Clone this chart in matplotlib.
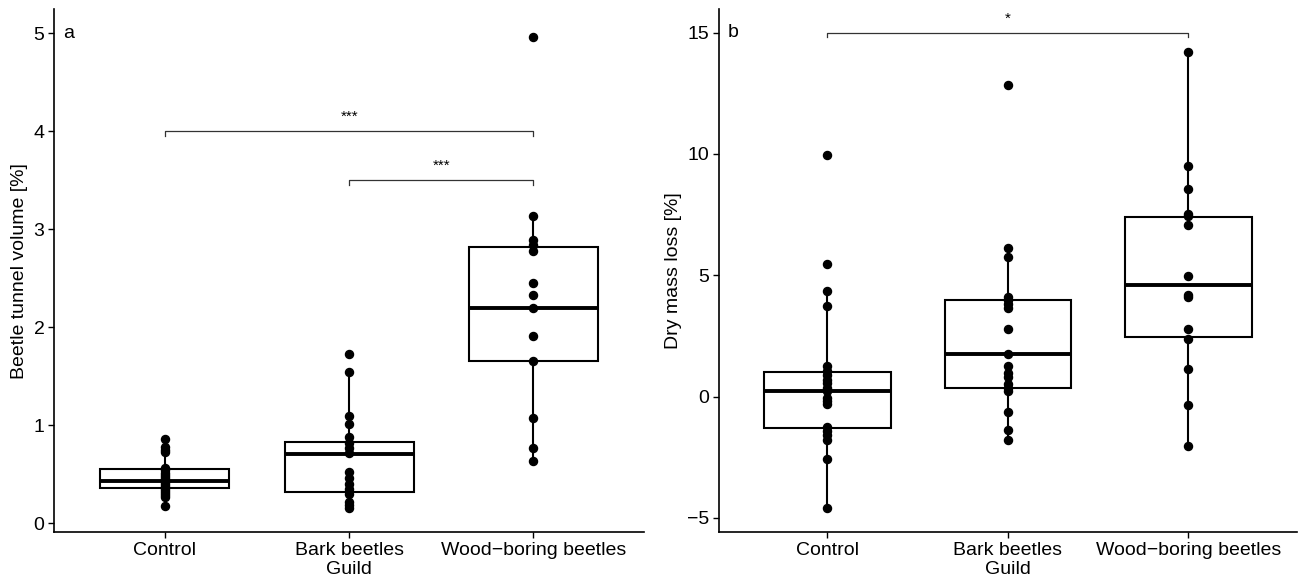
import matplotlib
matplotlib.use("Agg")
import matplotlib.pyplot as plt
import numpy as np

plt.rcParams["font.family"] = ["Liberation Sans", "DejaVu Sans"]

# ── data ──────────────────────────────────────────────────────────────────────
GUILDS = ["Control", "Bark beetles", "Wood\u2212boring beetles"]

# panel a: beetle tunnel volume [%]
tunnel_control = [0.857, 0.78, 0.75, 0.73, 0.56, 0.54, 0.51, 0.49, 0.47, 0.45,
                  0.43, 0.41, 0.39, 0.37, 0.35, 0.33, 0.31, 0.29, 0.27, 0.177]
tunnel_bark = [1.728, 1.547, 1.095, 1.01, 0.878, 0.816, 0.765, 0.714, 0.52,
               0.459, 0.40, 0.347, 0.30, 0.22, 0.187, 0.16]
tunnel_wood = [4.96, 3.134, 2.893, 2.836, 2.78, 2.449, 2.33, 2.195, 1.91,
               1.654, 1.071, 0.768, 0.632]
# box stats: q1, median, q3, lower whisker, upper whisker
tunnel_box = [(0.357, 0.435, 0.554, 0.177, 0.857),
              (0.32, 0.704, 0.833, 0.16, 1.547),
              (1.657, 2.194, 2.818, 0.632, 3.134)]

# panel b: dry mass loss [%]
mass_control = [9.94, 5.45, 4.35, 3.73, 1.27, 1.04, 0.89, 0.70, 0.58, 0.35,
                0.24, -0.06, -0.18, -0.31, -1.25, -1.40, -1.59, -1.79, -2.58, -4.58]
mass_bark = [12.84, 6.12, 5.77, 4.09, 3.97, 3.82, 3.66, 2.79, 1.77, 1.27, 0.96,
             0.81, 0.50, 0.35, 0.24, -0.64, -1.36, -1.79]
mass_wood = [14.19, 9.51, 8.55, 7.53, 7.45, 7.08, 4.98, 4.19, 4.09, 2.79, 2.38,
             1.15, -0.34, -2.02]
mass_box = [(-1.30, 0.24, 1.01, -4.58, 4.35),
            (0.35, 1.77, 4.00, -1.79, 6.12),
            (2.46, 4.61, 7.42, -2.02, 14.19)]

# significance brackets: (group from, group to, height, label)
tunnel_signif = [(0, 2, 4.0, "***"), (1, 2, 3.5, "***")]
mass_signif = [(0, 2, 15.0, "*")]


def draw_panel(ax, groups, box, signif, ylabel, letter, ylim, yticks, tick_drop, txt_off):
    stats = [dict(q1=q1, med=m, q3=q3, whislo=lo, whishi=hi, fliers=[])
             for q1, m, q3, lo, hi in box]
    ax.bxp(stats, positions=range(len(groups)), widths=0.7, showcaps=False,
           showfliers=False, patch_artist=True,
           boxprops=dict(facecolor="white", edgecolor="black", linewidth=1.5),
           medianprops=dict(color="black", linewidth=2.8),
           whiskerprops=dict(color="black", linewidth=1.5), zorder=2)
    for i, vals in enumerate(groups):
        ax.plot(np.full(len(vals), i), vals, "o", color="black",
                markersize=5.8, zorder=3)

    for a, b, h, lab in signif:
        ax.plot([a, a, b, b], [h - tick_drop, h, h, h - tick_drop],
                color="#333333", linewidth=0.9, zorder=1)
        ax.text((a + b) / 2, h + txt_off, lab, ha="center", va="center", fontsize=11)

    ax.text(-0.55, yticks[-1], letter, ha="left", va="center", fontsize=14)

    ax.set_xlim(-0.6, 2.6)
    ax.set_ylim(*ylim)
    ax.set_yticks(yticks)
    ax.set_xticks(range(len(GUILDS)))
    ax.set_xticklabels(GUILDS)
    ax.set_xlabel("Guild", fontsize=14, labelpad=2)
    ax.set_ylabel(ylabel, fontsize=14, labelpad=4)
    ax.tick_params(labelsize=14, length=4, width=1.0, pad=3, colors="black")
    for s in ("top", "right"):
        ax.spines[s].set_visible(False)
    for s in ("left", "bottom"):
        ax.spines[s].set_linewidth(1.2)


fig = plt.figure(figsize=(13.01, 5.83), dpi=100)
ax_a = fig.add_axes([0.0417, 0.0875, 0.4533, 0.8965])
ax_b = fig.add_axes([0.5527, 0.0875, 0.4440, 0.8965])

draw_panel(ax_a, [tunnel_control, tunnel_bark, tunnel_wood], tunnel_box,
           tunnel_signif, "Beetle tunnel volume [%]", "a",
           (-0.089, 5.245), [0, 1, 2, 3, 4, 5], 0.05, 0.15)
draw_panel(ax_b, [mass_control, mass_bark, mass_wood], mass_box,
           mass_signif, "Dry mass loss [%]", "b",
           (-5.58, 15.96), [-5, 0, 5, 10, 15], 0.2, 0.55)

fig.savefig("out.png", dpi=100)
